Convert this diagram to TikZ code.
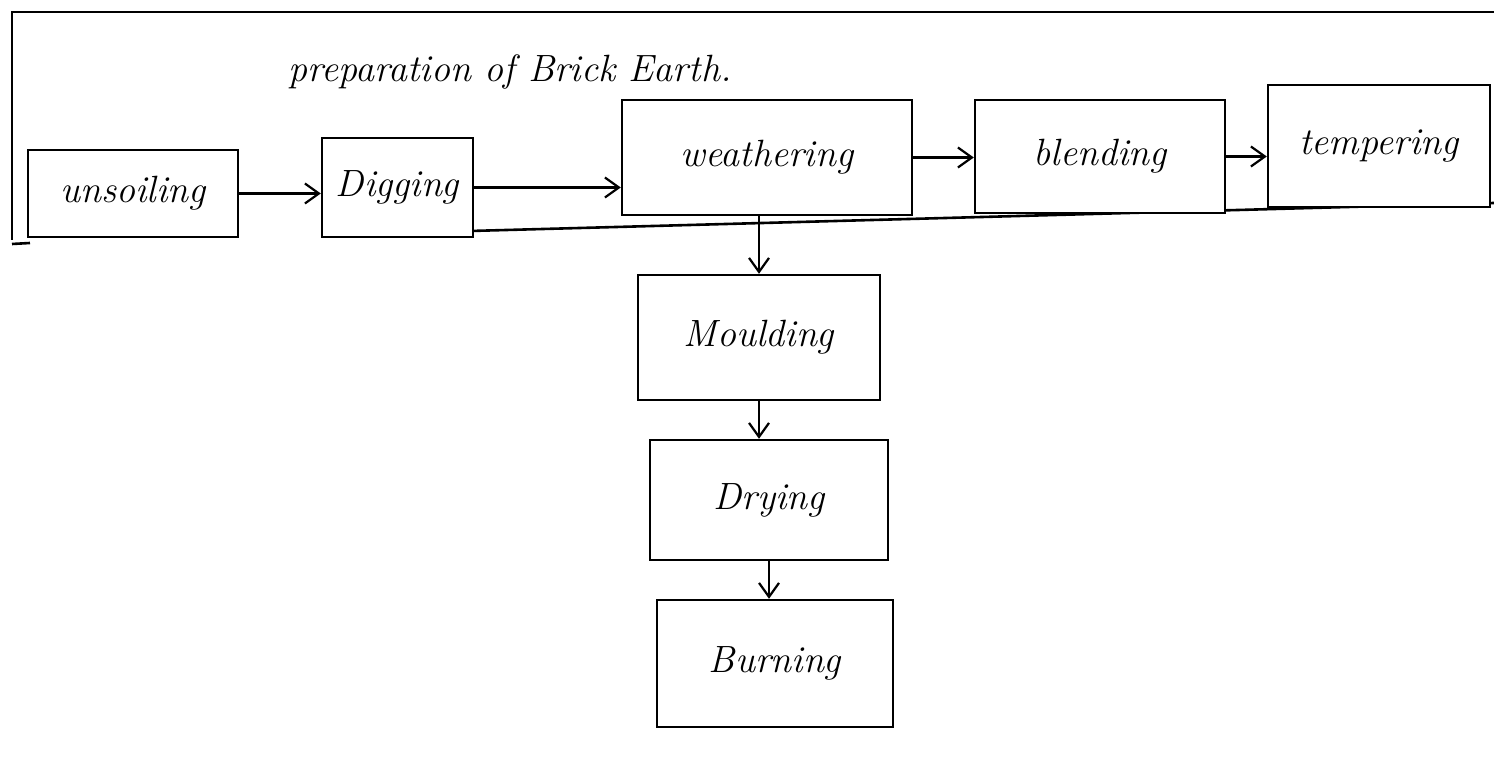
\documentclass[tikz,border=0pt]{standalone}
\usetikzlibrary{arrows.meta}
\begin{document}
\begin{tikzpicture}[x=0.5pt,y=-0.5pt,
  stepbox/.style={draw, fill=white, line width=1.2pt, inner sep=0pt, font=\fontsize{19}{22}\selectfont\itshape},
  flow/.style={-{Straight Barb[length=7pt,width=10pt]}, line width=1.1pt},
  frame/.style={line width=1.3pt}]
\useasboundingbox (0,0) rectangle (1494,779);
% frame
\draw[frame] (1494,12) -- (12,12) -- (12,240);
\draw[frame] (12,244) -- (30,243);
\draw[frame] (470,231) -- (1494,203);
% title
\node[font=\fontsize{19}{22}\selectfont\itshape] (title) at (510,72) {preparation of Brick Earth.};
% boxes
\node[stepbox, minimum width=105pt, minimum height=43.5pt] (unsoil) at (133,193.5) {unsoiling};
\node[stepbox, minimum width=75.5pt, minimum height=49.5pt] (dig) at (397.5,187.5) {Digging};
\node[stepbox, minimum width=145pt, minimum height=57.5pt] (weath) at (767,157.5) {weathering};
\node[stepbox, minimum width=125pt, minimum height=56.5pt] (blend) at (1100,156.5) {blending};
\node[stepbox, minimum width=111pt, minimum height=61pt] (temper) at (1379,146) {tempering};
\node[stepbox, minimum width=121pt, minimum height=62.5pt] (mould) at (759,337.5) {Moulding};
\node[stepbox, minimum width=119pt, minimum height=60pt] (dry) at (769,500) {Drying};
\node[stepbox, minimum width=118pt, minimum height=63.5pt] (burn) at (775,663.5) {Burning};
% connectors
\draw[flow] (unsoil.east) -- (dig.west |- unsoil.east);
\draw[flow] (dig.east) -- (weath.west |- dig.east);
\draw[flow] (weath.east) -- (blend.west |- weath.east);
\draw[flow] (blend.east) -- (temper.west |- blend.east);
\draw[flow] (weath.south -| mould.north) -- (mould.north);
\draw[flow] (mould.south) -- (mould.south |- dry.north);
\draw[flow] (dry.south) -- (dry.south |- burn.north);
\end{tikzpicture}
\end{document}
